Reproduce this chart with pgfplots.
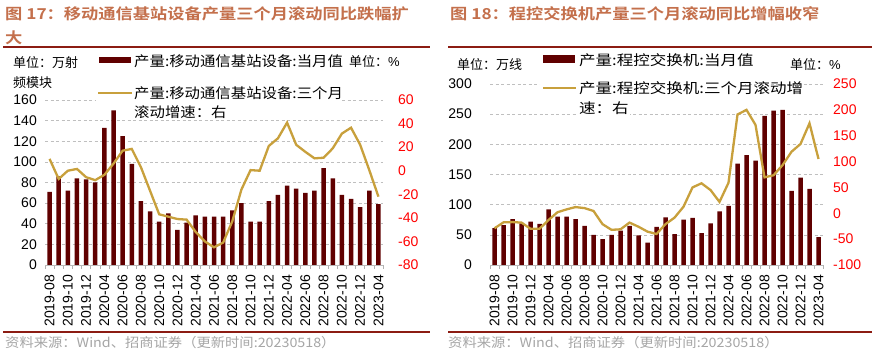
\documentclass[border=0pt]{standalone}
\usepackage{fontspec}
\usepackage{pgfplots}
\usepackage{pgfplotstable}
\pgfplotsset{compat=1.18}
\setmainfont{Liberation Sans}
\newfontfamily\cjk{Noto Sans CJK SC}[FakeStretch=1.1]
\newfontfamily\cjkr{Noto Sans CJK SC}[FakeStretch=1.18]
\newfontfamily\cjku{Noto Sans CJK SC}
\newfontfamily\cjkb{Noto Sans CJK SC Bold}[FakeStretch=1.15]
\newfontfamily\cjks{Noto Sans CJK SC}[FakeStretch=1.1]
\definecolor{barc}{HTML}{600000}
\definecolor{linec}{HTML}{C8A03C}
\definecolor{titlec}{HTML}{C4704C}
\definecolor{rulec}{HTML}{8C1C13}
\definecolor{srcc}{HTML}{A6A6A6}

\pgfplotstableread{
i bar line
0 71 10
1 86 -7
2 72 0
3 84 1.5
4 83 -5.5
5 80 -8
6 133 -3.5
7 150 6
8 125 17
9 98 18.5
10 62 3
11 52 -17
12 42 -37
13 50 -39
14 34 -41
15 41 -41.5
16 48 -52
17 47 -60
18 47 -65
19 47 -61
20 53 -43
21 60 -16
22 42 0.5
23 42 0
24 62 21
25 68 27.5
26 77 40.8
27 74 22
28 70 16
29 72 10.5
30 94 11
31 84 19
32 68 31.5
33 64 36.5
34 56 22
35 72 0.5
36 59 -22
}\dataA

\pgfplotstableread{
i bar line
0 61 -29
1 66 -17.5
2 76 -17
3 69 -18
4 72 -30
5 68 -30
6 92 -13
7 80 2
8 80 7.5
9 76 12
10 65 10
11 50 4.5
12 43 -21
13 50 -32
14 57 -31
15 65 -18
16 49 -26
17 37 -35.5
18 63 -40
19 79 -21
20 51 -8.5
21 75 12.7
22 78 50
23 53 58
24 69 45
25 89 22
26 98 59
27 168 191
28 182 200
29 173 171
30 247 69.5
31 256 73.5
32 257 93
33 123 119
34 145 134
35 126 174
36 46 105
}\dataB

\pgfplotsset{
  base/.style={
    scale only axis, anchor=south west,
    xmin=-0.5, xmax=36.5,
    /pgf/number format/assume math mode=true,
    tick label style={font=\fontsize{14}{16}\selectfont},
    major tick length=0pt,
  },
  leftax/.style={
    base,
    axis x line*=bottom, axis y line*=left,
    y axis line style={draw=none},
    x axis line style={draw=gray!55, line width=0.8pt},
    xtick={0,2,...,36},
    xticklabels={2019-08,2019-10,2019-12,2020-04,2020-06,2020-08,2020-10,2020-12,2021-04,2021-06,2021-08,2021-10,2021-12,2022-04,2022-06,2022-08,2022-10,2022-12,2023-04},
    minor xtick={-0.5,0.5,...,36.5},
    minor tick length=4pt, tick align=outside,
    every minor tick/.style={draw=gray!60, line width=0.6pt},
    xticklabel style={rotate=90, anchor=east, inner sep=0pt, xshift=-10pt},
    ymajorgrids,
    grid style={draw=gray!50, dash pattern=on 3pt off 2.5pt, line width=0.6pt},
  },
  rightax/.style={
    base,
    axis y line*=right, axis x line=none,
    y axis line style={draw=none},
    yticklabel style={text=red, inner sep=0pt},
  },
}

\begin{document}
\begin{tikzpicture}[x=1pt,y=1pt]
\useasboundingbox[fill=white] (0,0) rectangle (878,356);

% ---------------- left panel
\begin{axis}[leftax, at={(45pt,91pt)}, width=338pt, height=165pt,
  ymin=0, ymax=160, ytick={0,20,...,160},
  yticklabel style={inner sep=0pt, xshift=-8pt}]
\addplot[ybar, bar width=4.5pt, fill=barc, draw=none] table[x=i, y=bar] {\dataA};
\end{axis}
\begin{axis}[rightax, at={(45pt,91pt)}, width=338pt, height=165pt,
  ymin=-80, ymax=60, ytick={-80,-60,...,60},
  yticklabel style={xshift=15pt}]
\addplot[linec, line width=2.3pt, no marks] table[x=i, y=line] {\dataA};
\end{axis}

% ---------------- right panel
\begin{axis}[leftax, at={(490pt,91pt)}, width=333pt, height=181pt,
  ymin=0, ymax=300, ytick={0,50,...,300},
  yticklabel style={inner sep=0pt, xshift=-18pt}]
\addplot[ybar, bar width=4.5pt, fill=barc, draw=none] table[x=i, y=bar] {\dataB};
\end{axis}
\begin{axis}[rightax, at={(490pt,91pt)}, width=333pt, height=181pt,
  ymin=-100, ymax=250, ytick={-100,-50,...,250},
  yticklabel style={xshift=10pt}]
\addplot[linec, line width=2.3pt, no marks] table[x=i, y=line] {\dataB};
\end{axis}

% ---------------- titles and rules
\node[anchor=west, inner sep=0pt, text=titlec, font=\cjkb\fontsize{15}{18}\selectfont] at (5,342.5) {图 17：移动通信基站设备产量三个月滚动同比跌幅扩};
\node[anchor=west, inner sep=0pt, text=titlec, font=\cjkb\fontsize{15}{18}\selectfont] at (5,318.5) {大};
\node[anchor=west, inner sep=0pt, text=titlec, font=\cjkb\fontsize{15}{18}\selectfont] at (450,342.5) {图 18：程控交换机产量三个月滚动同比增幅收窄};
\draw[rulec, line width=1.4pt] (3,309) -- (430,309);
\draw[rulec, line width=1.4pt] (448,309) -- (872,309);
\draw[rulec, line width=1.6pt] (3,24) -- (430,24);
\draw[rulec, line width=1.6pt] (448,24) -- (872,24);
\node[anchor=west, inner sep=0pt, text=srcc, font=\cjks\fontsize{13}{15}\selectfont] at (5,13) {资料来源：Wind、招商证券（更新时间:20230518）};
\node[anchor=west, inner sep=0pt, text=srcc, font=\cjks\fontsize{13}{15}\selectfont] at (448,13) {资料来源：Wind、招商证券（更新时间:20230518）};

% ---------------- left legend / units
\node[anchor=west, inner sep=0pt, font=\cjku\fontsize{13}{15}\selectfont] at (13,293) {单位：万射};
\node[anchor=west, inner sep=0pt, font=\cjku\fontsize{13}{15}\selectfont] at (13,273) {频模块};
\fill[white] (96,252) rectangle (340,272);
\fill[barc] (99,293) rectangle (131,299);
\node[anchor=west, inner sep=0pt, font=\cjk\fontsize{14}{16}\selectfont] at (134,295) {产量:移动通信基站设备:当月值};
\node[anchor=west, inner sep=0pt, font=\cjku\fontsize{13}{15}\selectfont] at (349,294) {单位：\fontspec{Liberation Sans}\%};
\draw[linec, line width=2.3pt] (98,263) -- (132,263);
\node[anchor=west, inner sep=0pt, font=\cjk\fontsize{14}{16}\selectfont] at (134,263) {产量:移动通信基站设备:三个月};
\node[anchor=west, inner sep=1pt, fill=white, font=\cjk\fontsize{14}{16}\selectfont] at (133,244) {滚动增速：右};

% ---------------- right legend / units
\node[anchor=west, inner sep=0pt, font=\cjku\fontsize{13}{15}\selectfont] at (457,291) {单位：万线};
\fill[barc] (543,293) rectangle (575,301);
\node[anchor=west, inner sep=0pt, font=\cjkr\fontsize{14}{16}\selectfont] at (579,296) {产量:程控交换机:当月值};
\node[anchor=west, inner sep=0pt, font=\cjku\fontsize{13}{15}\selectfont] at (790,291) {单位：\fontspec{Liberation Sans}\%};
\fill[white] (540,257) rectangle (745,281);
\draw[linec, line width=2.3pt] (543,268) -- (576,268);
\node[anchor=west, inner sep=0pt, font=\cjkr\fontsize{14}{16}\selectfont] at (579,268) {产量:程控交换机:三个月滚动增};
\node[anchor=west, inner sep=1pt, fill=white, font=\cjkr\fontsize{14}{16}\selectfont] at (578,248) {速：右};
\end{tikzpicture}
\end{document}
